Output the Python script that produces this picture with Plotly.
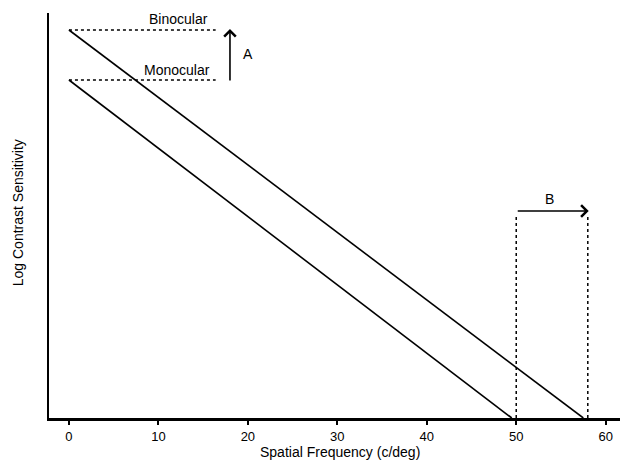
import plotly.graph_objects as go

# Data
binocular_x = [0, 57.5]
binocular_y = [3.88, 0]
monocular_x = [0, 49.5]
monocular_y = [3.38, 0]
binocular_level = 3.88
monocular_level = 3.38
ref_x_end = 16.4
arrow_a_x = 18
cutoff_mono = 50
cutoff_bino = 58
arrow_b_y = 2.07
x_ticks = [0, 10, 20, 30, 40, 50, 60]

fig = go.Figure()
line_style = dict(color="black", width=1.6)
dot_style = dict(color="black", width=1.5, dash="dot")

fig.add_trace(go.Scatter(x=binocular_x, y=binocular_y, mode="lines", line=line_style, showlegend=False))
fig.add_trace(go.Scatter(x=monocular_x, y=monocular_y, mode="lines", line=line_style, showlegend=False))
fig.add_trace(go.Scatter(x=[0, ref_x_end], y=[binocular_level, binocular_level], mode="lines", line=dot_style, showlegend=False))
fig.add_trace(go.Scatter(x=[0, ref_x_end], y=[monocular_level, monocular_level], mode="lines", line=dot_style, showlegend=False))
fig.add_trace(go.Scatter(x=[cutoff_mono, cutoff_mono], y=[0, arrow_b_y - 0.04], mode="lines", line=dot_style, showlegend=False))
fig.add_trace(go.Scatter(x=[cutoff_bino, cutoff_bino], y=[0, arrow_b_y - 0.04], mode="lines", line=dot_style, showlegend=False))

fam = "Liberation Sans, Arial, sans-serif"
font = dict(family=fam, size=14, color="black")

# Arrow A
fig.add_annotation(x=arrow_a_x, y=binocular_level + 0.01, ax=arrow_a_x, ay=monocular_level - 0.02,
                   xref="x", yref="y", axref="x", ayref="y", showarrow=True,
                   arrowhead=4, arrowsize=1.4, arrowwidth=1.6, arrowcolor="black", text="")
fig.add_annotation(x=arrow_a_x + 2.0, y=(binocular_level + monocular_level) / 2 + 0.01, text="A",
                   showarrow=False, font=font)
# Arrow B
fig.add_annotation(x=cutoff_bino + 0.1, y=arrow_b_y, ax=cutoff_mono, ay=arrow_b_y,
                   xref="x", yref="y", axref="x", ayref="y", showarrow=True,
                   arrowhead=4, arrowsize=1.4, arrowwidth=1.6, arrowcolor="black", text="")
fig.add_annotation(x=(cutoff_mono + cutoff_bino) / 2 - 0.3, y=arrow_b_y + 0.12, text="B",
                   showarrow=False, font=font)
# Labels
fig.add_annotation(x=12.2, y=binocular_level + 0.11, text="Binocular", showarrow=False, font=font)
fig.add_annotation(x=12.1, y=monocular_level + 0.10, text="Monocular", showarrow=False, font=font)

# Axis titles
fig.add_annotation(x=-0.0543, y=0.508, xref="paper", yref="paper", text="Log Contrast Sensitivity",
                   textangle=-90, showarrow=False, font=font, xanchor="center", yanchor="middle")
fig.add_annotation(x=0.5096, y=-0.084, xref="paper", yref="paper", text="Spatial Frequency (c/deg)",
                   showarrow=False, font=font, xanchor="center", yanchor="middle")

fig.update_layout(
    width=623, height=462,
    margin=dict(l=49, r=3, t=13, b=44),
    plot_bgcolor="white", paper_bgcolor="white",
    font=font,
    xaxis=dict(range=[-2.23, 61.6], tickvals=x_ticks, ticktext=[str(t) for t in x_ticks],
               showgrid=False, zeroline=False, showline=True, linecolor="black", linewidth=3,
               ticks="outside", ticklen=4, tickwidth=1.5, tickcolor="black",
               tickfont=dict(family=fam, size=13, color="black"), automargin=False),
    yaxis=dict(range=[0, 4.05], showgrid=False, zeroline=False, showline=True, linecolor="black",
               linewidth=2, showticklabels=False, ticks="", automargin=False),
)

fig.write_html("out.html", config={"displayModeBar": False},
               post_script="document.body.style.margin='0';document.body.style.overflow='hidden';")
